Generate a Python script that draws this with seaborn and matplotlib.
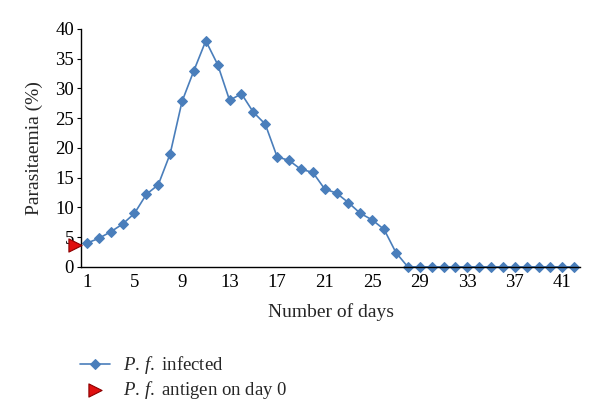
import pandas as pd
import matplotlib
matplotlib.use("Agg")
import matplotlib.pyplot as plt
import seaborn as sns

days = list(range(1, 43))
parasitaemia = [4.0, 4.8, 5.9, 7.2, 9.0, 12.2, 13.8, 19.0, 27.8, 33.0,
                38.0, 34.0, 28.0, 29.1, 26.0, 24.0, 18.5, 17.9, 16.4, 15.9,
                13.1, 12.4, 10.8, 9.0, 7.9, 6.3, 2.4] + [0.0] * 15
antigen_day = [0]
antigen_value = [3.7]
xticks = list(range(1, 42, 4))
yticks = list(range(0, 41, 5))

df = pd.DataFrame({"day": days, "pct": parasitaemia})

sns.set_style("white")
plt.rcParams["font.family"] = ["Liberation Serif", "DejaVu Serif"]
plt.rcParams["mathtext.fontset"] = "custom"
plt.rcParams["mathtext.rm"] = "Liberation Serif"
plt.rcParams["mathtext.it"] = "Liberation Serif:italic"

fig = plt.figure(figsize=(6, 4.19), dpi=100)
ax = fig.add_axes([0.135, 0.363, 0.832, 0.568])

sns.lineplot(data=df, x="day", y="pct", ax=ax, color="#4a7ebb", lw=1.2,
             marker="D", markersize=5.5, markeredgecolor="#4a7ebb",
             label="infected", clip_on=False, legend=False)
ax.scatter(antigen_day, antigen_value, marker=">", s=90, color="#e01010",
           edgecolor="#8b0000", linewidth=0.8, clip_on=False, zorder=5,
           label="antigen")

ax.set_xlim(0.5, 42.5)
ax.set_ylim(0, 40)
ax.set_xticks(xticks)
ax.set_yticks(yticks)
ax.tick_params(axis="both", labelsize=13.5, colors="black")
ax.tick_params(axis="y", length=3, width=0.8, direction="out", left=True, pad=2)
ax.tick_params(axis="x", length=0, pad=5)
sns.despine(ax=ax)
for s in ("left", "bottom"):
    ax.spines[s].set_color("black")
    ax.spines[s].set_linewidth(1.0)

ax.set_xlabel("Number of days", fontsize=14, labelpad=9)
ax.set_ylabel("Parasitaemia (%)", fontsize=14, labelpad=9)

handles, labels = ax.get_legend_handles_labels()
fig.legend(handles, [r"$\mathit{P.\,f.}$ infected", r"$\mathit{P.\,f.}$ antigen on day 0"],
           loc="upper left", bbox_to_anchor=(0.105, 0.195),
           bbox_transform=fig.transFigure,
           frameon=False, fontsize=13.5, handlelength=1.6, labelspacing=0.15,
           handletextpad=0.7)

fig.savefig("out.png", dpi=100)
